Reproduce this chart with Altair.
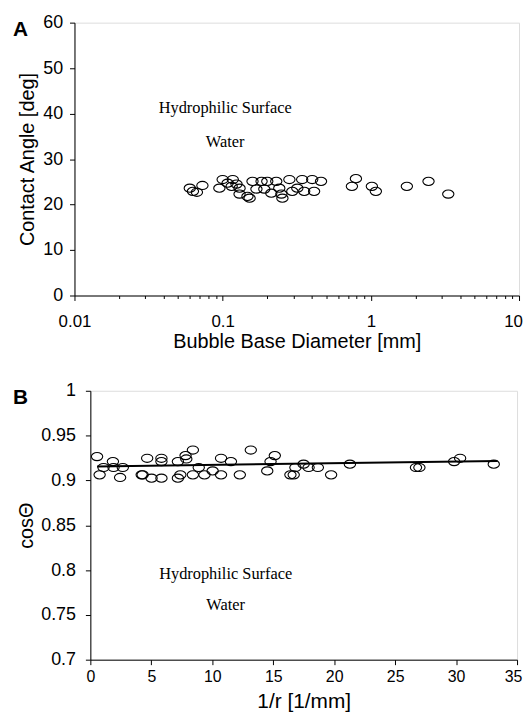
import altair as alt
import pandas as pd

# Panel A: bubble base diameter [mm] vs contact angle [deg]
diam_mm = [0.060, 0.063, 0.073, 0.067, 0.095, 0.100, 0.108, 0.117, 0.115, 0.124,
           0.130, 0.130, 0.147, 0.152, 0.159, 0.169, 0.183, 0.191, 0.200, 0.213,
           0.230, 0.241, 0.249, 0.253, 0.282, 0.295, 0.319, 0.344, 0.355, 0.402,
           0.414, 0.461, 0.793, 0.745, 1.016, 1.081, 1.75, 2.45, 3.33]
angle_deg = [23.6, 22.9, 24.2, 22.7, 23.6, 25.5, 24.7, 25.5, 24.0, 24.5,
             23.6, 22.3, 21.8, 21.4, 25.1, 23.4, 25.1, 23.4, 25.1, 22.5,
             25.1, 23.6, 22.3, 21.4, 25.5, 22.9, 23.6, 25.5, 22.9, 25.5,
             22.9, 25.1, 25.7, 24.0, 24.0, 22.9, 24.0, 25.1, 22.3]

# Panel B: 1/r [1/mm] vs cos(theta)
inv_r = [0.55, 0.76, 1.08, 1.85, 1.90, 2.44, 2.66, 4.21, 4.29, 4.66,
         5.02, 5.83, 5.83, 5.83, 7.18, 7.18, 7.38, 7.81, 7.87, 8.41,
         8.41, 8.89, 9.36, 10.03, 10.72, 10.72, 11.53, 12.26, 13.16, 14.51,
         14.78, 15.13, 16.41, 16.68, 16.82, 17.49, 17.90, 18.66, 19.75, 21.29,
         26.71, 26.99, 29.84, 30.33, 33.09]
cos_theta = [0.9266, 0.9062, 0.9144, 0.9210, 0.9144, 0.9033, 0.9144, 0.9062, 0.9062, 0.9247,
             0.9025, 0.9247, 0.9210, 0.9025, 0.9210, 0.9025, 0.9062, 0.9277, 0.9239, 0.9339,
             0.9062, 0.9144, 0.9062, 0.9106, 0.9247, 0.9062, 0.9210, 0.9062, 0.9339, 0.9106,
             0.9210, 0.9277, 0.9062, 0.9062, 0.9144, 0.9181, 0.9144, 0.9144, 0.9062, 0.9181,
             0.9144, 0.9144, 0.9210, 0.9247, 0.9181]
fit_x = [0.55, 33.4]
fit_y = [0.9155, 0.9217]

ann_text = ["Hydrophilic Surface", "Water"]
ann_a_x = [0.104, 0.104]
ann_a_y = [41.3, 33.8]
ann_b_x = [11.1, 11.1]
ann_b_y = [0.795, 0.7605]

a_xticks = [m * k for m in [0.01, 0.1, 1] for k in range(1, 10)] + [10]
a_yticks = list(range(0, 61, 5))
b_xticks = [i * 2.5 for i in range(0, 15)]
b_yticks = [round(0.7 + i * 0.025, 3) for i in range(0, 13)]

SANS = "Liberation Sans"
SERIF = "Liberation Serif"
ELLIPSE = "M-1,0A1,0.72,0,1,1,1,0A1,0.72,0,1,1,-1,0Z"

dfa = pd.DataFrame({"d": diam_mm, "a": angle_deg})
dfb = pd.DataFrame({"r": inv_r, "c": cos_theta})
dff = pd.DataFrame({"r": fit_x, "c": fit_y})
dann_a = pd.DataFrame({"x": ann_a_x, "y": ann_a_y, "t": ann_text})
dann_b = pd.DataFrame({"x": ann_b_x, "y": ann_b_y, "t": ann_text})

xa_scale = alt.Scale(type="log", domain=[0.01, 10], nice=False)
ya_scale = alt.Scale(domain=[0, 60], nice=False)
xb_scale = alt.Scale(domain=[0, 35], nice=False)
yb_scale = alt.Scale(domain=[0.7, 1.0], nice=False)

LOGTEST = "abs(log(datum.value)/LN10 - round(log(datum.value)/LN10)) < 0.001"
B_YTEST = "abs(datum.value*20 - round(datum.value*20)) < 0.001"

axis_common = dict(labelFont=SANS, titleFont=SANS, labelColor="black", titleColor="black",
                   domainColor="black", tickColor="black", grid=False,
                   titleFontWeight="normal", labelFlush=False, labelOverlap=False)

xa_axis = alt.Axis(values=a_xticks, title="Bubble Base Diameter [mm]",
                   labelExpr=f"({LOGTEST}) ? format(datum.value, '~g') : ''",
                   tickSize={"condition": {"test": LOGTEST, "value": 5}, "value": 3},
                   labelOffset={"condition": {"test": "datum.value >= 9.99", "value": -6}, "value": 0},
                   labelFontSize=17, titleFontSize=20, labelPadding=13, titlePadding=2,
                   **axis_common)
ya_axis = alt.Axis(values=a_yticks, title="Contact Angle [deg]",
                   labelExpr="datum.value % 10 == 0 ? datum.label : ''",
                   tickSize={"condition": {"test": "datum.value % 10 == 0", "value": 5}, "value": 3},
                   labelFontSize=18, titleFontSize=20, labelPadding=7, titlePadding=5,
                   **axis_common)

pts_a = alt.Chart(dfa).mark_point(shape=ELLIPSE, size=130, filled=False, color="black",
                                  strokeWidth=1.1, opacity=1).encode(
    x=alt.X("d:Q", scale=xa_scale, axis=xa_axis),
    y=alt.Y("a:Q", scale=ya_scale, axis=ya_axis),
)
txt_a = alt.Chart(dann_a).mark_text(font=SERIF, fontSize=16.5, color="black").encode(
    x=alt.X("x:Q", scale=xa_scale), y=alt.Y("y:Q", scale=ya_scale), text="t:N")
lab_a = alt.Chart(pd.DataFrame({"t": ["A"]})).mark_text(
    font=SANS, fontSize=21, fontWeight="bold", color="black", align="left", baseline="alphabetic"
).encode(x=alt.value(-62), y=alt.value(13), text="t:N")

panel_a = alt.layer(pts_a, txt_a, lab_a).properties(width=448, height=275)

xb_axis = alt.Axis(values=b_xticks, title="1/r [1/mm]",
                   labelExpr="datum.value % 5 == 0 ? datum.label : ''",
                   tickSize={"condition": {"test": "datum.value % 5 == 0", "value": 5}, "value": 3},
                   labelOffset={"condition": {"test": "datum.value >= 34.9", "value": -4}, "value": 0},
                   labelFontSize=16, titleFontSize=21, labelPadding=4, titlePadding=6,
                   **axis_common)
yb_axis = alt.Axis(values=b_yticks, title="cosΘ",
                   labelExpr=f"({B_YTEST}) ? format(datum.value, '~g') : ''",
                   tickSize={"condition": {"test": B_YTEST, "value": 5}, "value": 3},
                   labelFontSize=18, titleFontSize=20, labelPadding=10, titlePadding=4,
                   **axis_common)

pts_b = alt.Chart(dfb).mark_point(shape=ELLIPSE, size=130, filled=False, color="black",
                                  strokeWidth=1.1, opacity=1).encode(
    x=alt.X("r:Q", scale=xb_scale, axis=xb_axis),
    y=alt.Y("c:Q", scale=yb_scale, axis=yb_axis),
)
fit_b = alt.Chart(dff).mark_line(color="black", strokeWidth=2).encode(
    x=alt.X("r:Q", scale=xb_scale), y=alt.Y("c:Q", scale=yb_scale))
txt_b = alt.Chart(dann_b).mark_text(font=SERIF, fontSize=16.5, color="black").encode(
    x=alt.X("x:Q", scale=xb_scale), y=alt.Y("y:Q", scale=yb_scale), text="t:N")
lab_b = alt.Chart(pd.DataFrame({"t": ["B"]})).mark_text(
    font=SANS, fontSize=21, fontWeight="bold", color="black", align="left", baseline="alphabetic"
).encode(x=alt.value(-78), y=alt.value(13), text="t:N")

panel_b = alt.layer(pts_b, fit_b, txt_b, lab_b).properties(width=430, height=271)


def spacer():
    # invisible 1px cell so each row's left edge is its own leftmost text
    return alt.Chart(pd.DataFrame({"t": [""]})).mark_text().encode(text="t:N").properties(
        width=1, height=1, view=alt.ViewBackground(stroke=None))


row_a = alt.hconcat(spacer(), panel_a, spacing=0)
row_b = alt.hconcat(spacer(), panel_b, spacing=0)

chart = alt.vconcat(row_a, row_b, spacing=29).properties(background="white").configure_view(
    stroke="black", strokeWidth=1
).configure(padding={"left": 3, "top": 2, "right": 0, "bottom": 0})

chart.save("out.html", embed_options={"renderer": "svg", "actions": False})
